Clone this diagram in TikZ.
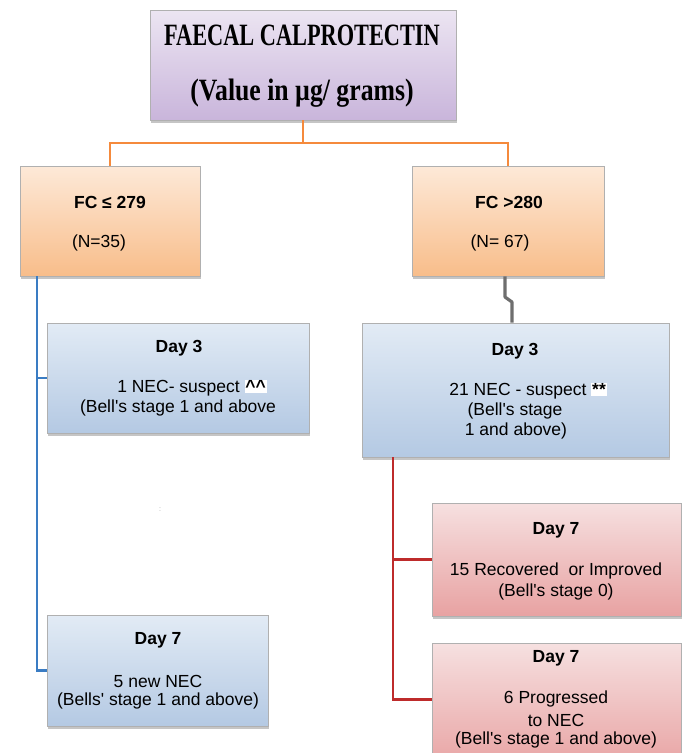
\documentclass[tikz,border=0pt]{standalone}
\usepackage{fontspec}
\setmainfont{Liberation Sans}
\newfontfamily\titlefont{Liberation Serif}
\usetikzlibrary{shadows}
\definecolor{purT}{HTML}{ECE5F2}
\definecolor{purB}{HTML}{C9B5DB}
\definecolor{oraT}{HTML}{FDE9D8}
\definecolor{oraB}{HTML}{F8BD8A}
\definecolor{bluT}{HTML}{E2EBF5}
\definecolor{bluB}{HTML}{B4C9E3}
\definecolor{redT}{HTML}{F6E0E0}
\definecolor{redB}{HTML}{E8A2A2}
\definecolor{bordc}{HTML}{B0B0B0}
\definecolor{shadc}{HTML}{8C8C8C}
\definecolor{orline}{HTML}{F58A3C}
\definecolor{blline}{HTML}{3A7CC3}
\definecolor{grline}{HTML}{6E6E6E}
\definecolor{rdline}{HTML}{BE2B2B}
\tikzset{
  box/.style={draw=bordc, line width=0.7pt, inner sep=0pt,
    drop shadow={shadow xshift=1pt, shadow yshift=-3pt, fill=shadc}},
  purbox/.style={box, top color=purT, bottom color=purB},
  orabox/.style={box, top color=oraT, bottom color=oraB},
  blubox/.style={box, top color=bluT, bottom color=bluB},
  redbox/.style={box, top color=redT, bottom color=redB},
  txt/.style={inner sep=0pt, font=\fontsize{17.5}{21}\selectfont},
  btxt/.style={inner sep=0pt, font=\fontsize{17.5}{21}\selectfont\bfseries},
  conn/.style={line width=2.6pt},
  oc/.style={conn, draw=orline},
  bc/.style={conn, draw=blline},
  gc/.style={conn, draw=grline, line width=3.2pt, line join=round},
  rc/.style={conn, draw=rdline},
}
\newcommand{\hlt}[1]{{\setlength{\fboxsep}{0.8pt}\colorbox{white}{#1}}}
\newcommand{\aps}{\textquotesingle}
\begin{document}
\begin{tikzpicture}[x=1pt,y=-1pt]
\useasboundingbox[fill=white] (0,0) rectangle (684,753);
% boxes
\node[purbox, minimum width=306pt, minimum height=110pt] (top) at (303,65) {};
\node[orabox, minimum width=180pt, minimum height=110pt] (lfc) at (110,221) {};
\node[orabox, minimum width=192pt, minimum height=110pt] (rfc) at (508,221) {};
\node[blubox, minimum width=262pt, minimum height=110pt] (ld3) at (178,378) {};
\node[blubox, minimum width=307pt, minimum height=134pt] (rd3) at (515.5,390) {};
\node[blubox, minimum width=221pt, minimum height=111pt] (ld7) at (157.5,670.5) {};
\node[redbox, minimum width=249pt, minimum height=113pt] (rd7a) at (556.5,559.5) {};
\node[redbox, minimum width=249pt, minimum height=127pt] (rd7b) at (556.5,706.5) {};
% title text
\node[inner sep=0pt] (t1) at (302,35) {\scalebox{0.72}[1]{\titlefont\fontsize{31}{31}\selectfont\bfseries FAECAL CALPROTECTIN}};
\node[inner sep=0pt] (t2) at (302,93) {\scalebox{0.83}[1]{\titlefont\fontsize{31}{31}\selectfont\bfseries (Value in µg/ grams)}};
% FC boxes
\node[btxt] (lfc1) at (110,202) {FC ≤ 279};
\node[txt] (lfc2) at (99,243) {(N=35)};
\node[btxt] (rfc1) at (509,202) {FC >280};
\node[txt] (rfc2) at (500,243) {(N= 67)};
% left day 3
\node[btxt] (ld31) at (179,348) {Day 3};
\node[txt] (ld32) at (192,388) {1 NEC- suspect \hlt{\textbf{\textasciicircum\textasciicircum}}};
\node[txt] (ld33) at (178,408) {(Bell\aps s stage 1 and above};
% right day 3
\node[btxt] (rd31) at (515,351) {Day 3};
\node[txt] (rd32) at (528,391) {21 NEC - suspect \hlt{\textbf{**}}};
\node[txt] (rd33) at (515,411) {(Bell\aps s stage};
\node[txt] (rd34) at (516,431) {1 and above)};
% left day 7
\node[btxt] (ld71) at (158,640) {Day 7};
\node[txt] (ld72) at (158,681) {5 new NEC};
\node[txt] (ld73) at (158,701) {(Bells\aps\ stage 1 and above)};
% right day 7 a
\node[btxt] (ra1) at (556,530) {Day 7};
\node[txt] (ra2) at (556,571) {15 Recovered~ or Improved};
\node[txt] (ra3) at (556,592) {(Bell\aps s stage 0)};
% right day 7 b
\node[btxt] (rb1) at (556,658) {Day 7};
\node[txt] (rb2) at (556,699) {6 Progressed};
\node[txt] (rb3) at (556,720) {to NEC};
\node[txt] (rb4) at (556,740) {(Bell\aps s stage 1 and above)};
% stray mark
\node[inner sep=0pt, text=gray!70, font=\fontsize{7}{7}\selectfont] (dots) at (160,510) {:};
% connectors
\coordinate (ojoin) at (303,143);
\draw[oc] (top.south) -- (ojoin) -| (lfc.north);
\draw[oc] (ojoin) -| (rfc.north);
\coordinate (gk1) at (505,297);
\coordinate (gk2) at (512,302);
\draw[gc] (rfc.south -| gk1) -- (gk1) -- (gk2) -- (gk2 |- rd3.north);
\coordinate (bl) at (37,276);
\draw[bc] (bl) |- (ld7.west);
\draw[bc] (ld3.west -| bl) -- (ld3.west);
\coordinate (rt) at (393,457);
\draw[rc] (rt) |- ([yshift=7pt]rd7b.west);
\draw[rc] (rd7a.west -| rt) -- (rd7a.west);
\end{tikzpicture}
\end{document}
